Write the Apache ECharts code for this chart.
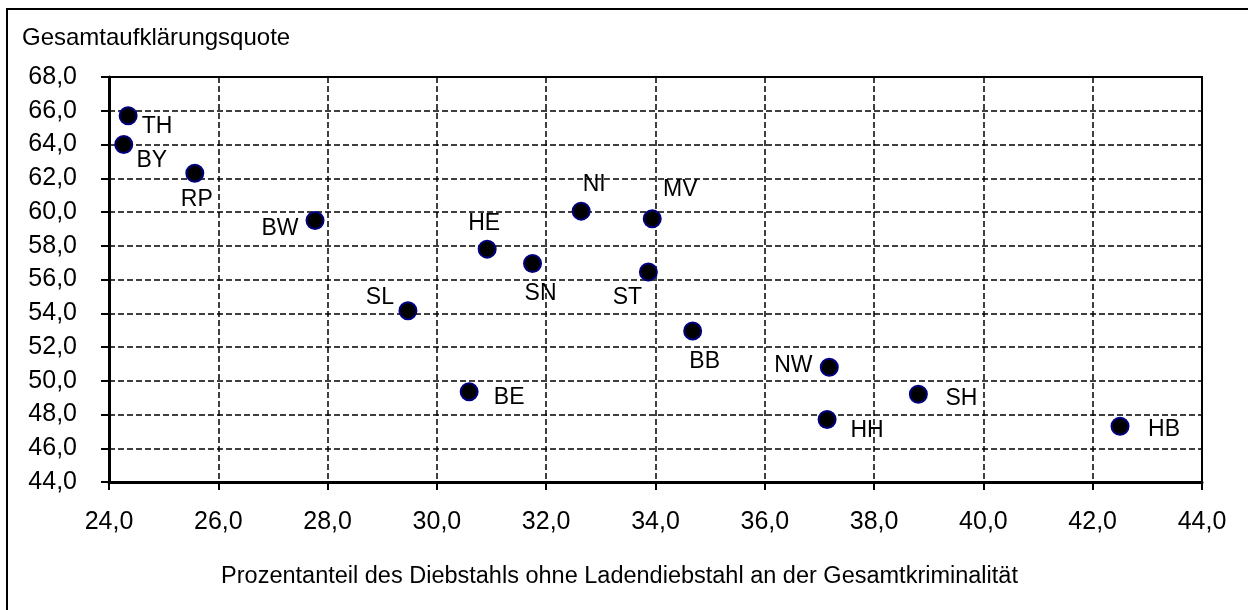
<!DOCTYPE html>
<html>
<head>
<meta charset="utf-8">
<script src="https://cdn.jsdelivr.net/npm/echarts@6/dist/echarts.min.js"></script>
<style>
  html, body { margin: 0; padding: 0; background: #fff; }
  #panel { width: 1248px; height: 610px; }
</style>
</head>
<body>
<div id="panel"></div>
<script>
// Bundeslaender: Diebstahlsanteil vs. Aufklaerungsquote
var stateCodes    = ['TH', 'BY', 'RP', 'BW', 'HE', 'SL', 'NI', 'MV', 'SN', 'ST', 'BB', 'BE', 'NW', 'SH', 'HH', 'HB'];
var theftShare    = [24.35, 24.27, 25.57, 27.77, 30.92, 29.47, 32.64, 33.94, 31.75, 33.87, 34.68, 30.59, 37.18, 38.81, 37.14, 42.50];
var clearanceRate = [65.7, 64.0, 62.3, 59.5, 57.8, 54.15, 60.05, 59.6, 56.95, 56.45, 52.95, 49.35, 50.8, 49.2, 47.7, 47.3];

// where each label sits relative to its dot (pixels)
var labelOffset = {
    TH: [29, 11], BY: [28, 16], RP: [2, 26], BW: [-35, 8],
    HE: [-3, -25], SL: [-28, -13], NI: [13, -27], MV: [28, -29],
    SN: [8, 30], ST: [-21, 26], BB: [12, 31], BE: [40, 6],
    NW: [-36, -2], SH: [43, 4], HH: [40, 11], HB: [44, 3]
};

var font = "'Liberation Sans', Arial, sans-serif";

function komma(v) {
    return v.toFixed(1).replace('.', ',');
}

var points = stateCodes.map(function (code, i) {
    return {
        name: code,
        value: [theftShare[i], clearanceRate[i]],
        label: { offset: labelOffset[code] }
    };
});

var myChart = echarts.init(document.getElementById('panel'));
myChart.setOption({
    backgroundColor: '#fff',
    animation: false,
    textStyle: { fontFamily: font, color: '#000' },
    title: {
        text: 'Gesamtaufklärungsquote',
        left: 22,
        top: 26,
        padding: 0,
        textStyle: { fontFamily: font, fontSize: 24, fontWeight: 'normal', color: '#000' }
    },
    graphic: [{
        type: 'rect',
        shape: { x: 7, y: 9, width: 1300, height: 700 },
        style: { fill: 'none', stroke: '#000', lineWidth: 2 },
        silent: true
    }],
    grid: {
        left: 109, right: 46, top: 77, bottom: 128,
        show: true, borderColor: '#000', borderWidth: 2
    },
    xAxis: {
        type: 'value',
        min: 24, max: 44, interval: 2,
        name: 'Prozentanteil des Diebstahls ohne Ladendiebstahl an der Gesamtkriminalität',
        nameLocation: 'middle',
        nameGap: 83,
        nameTextStyle: { fontFamily: font, fontSize: 23.5, color: '#000', padding: [0, 72, 0, 0] },
        axisLine: { show: true, lineStyle: { color: '#000', width: 3 } },
        axisTick: { show: true, length: 8, lineStyle: { color: '#000', width: 2 } },
        axisLabel: { margin: 28, fontSize: 25, color: '#000', fontFamily: font, formatter: komma },
        splitLine: { show: true, lineStyle: { color: '#000', width: 1.5, type: [6, 3] } }
    },
    yAxis: {
        type: 'value',
        min: 44, max: 68, interval: 2,
        axisLine: { show: true, lineStyle: { color: '#000', width: 3 } },
        axisTick: { show: true, length: 8, lineStyle: { color: '#000', width: 2 } },
        axisLabel: { margin: 32, fontSize: 25, color: '#000', fontFamily: font, formatter: komma },
        splitLine: { show: true, lineStyle: { color: '#000', width: 1.5, type: [6, 3] } }
    },
    series: [{
        type: 'scatter',
        symbol: 'circle',
        symbolSize: 17,
        itemStyle: { color: '#000', borderColor: '#00007f', borderWidth: 2, opacity: 1 },
        label: {
            show: true,
            position: 'inside',
            formatter: '{b}',
            fontFamily: font,
            fontSize: 23,
            color: '#000'
        },
        data: points
    }]
});
</script>
</body>
</html>
